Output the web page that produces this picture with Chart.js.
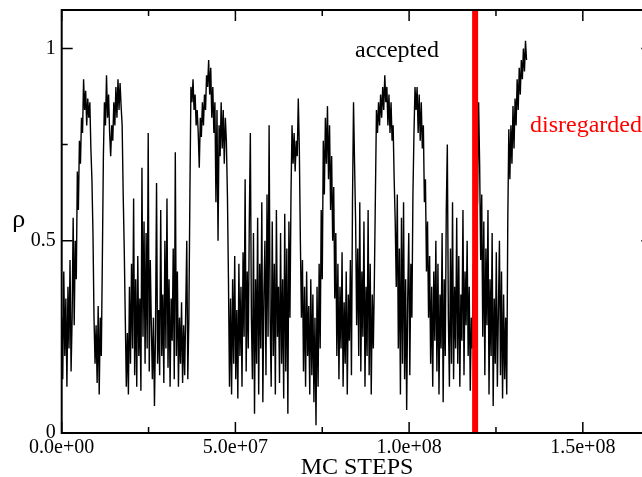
<!DOCTYPE html>
<html>
<head>
<meta charset="utf-8">
<script src="https://cdn.jsdelivr.net/npm/chart.js@4/dist/chart.umd.min.js"></script>
<style>
  html, body { margin: 0; padding: 0; background: #fff; overflow: hidden; }
  #wrap { width: 660px; height: 477px; }
</style>
</head>
<body>
<div id="wrap"><canvas id="rho-chart" width="660" height="477"></canvas></div>
<script>
// MC run: density rho sampled every SAMPLE_EVERY steps
const SAMPLE_EVERY = 3e5;
const RHO = [
  0.30, 0.14, 0.42, 0.20, 0.35, 0.12, 0.38, 0.22, 0.45, 0.16, 0.30, 0.56, 0.28, 0.50, 0.40, 0.68, 0.58, 0.76, 0.70, 0.82,
  0.78, 0.92, 0.84, 0.89, 0.80, 0.87, 0.82, 0.86, 0.74, 0.66, 0.52, 0.30, 0.18, 0.28, 0.13, 0.33, 0.10, 0.30, 0.20, 0.45,
  0.72, 0.86, 0.80, 0.93, 0.82, 0.88, 0.78, 0.72, 0.80, 0.76, 0.86, 0.80, 0.90, 0.82, 0.92, 0.84, 0.91, 0.85, 0.80, 0.62,
  0.48, 0.30, 0.12, 0.26, 0.10, 0.38, 0.18, 0.44, 0.22, 0.61, 0.15, 0.40, 0.12, 0.46, 0.20, 0.35, 0.11, 0.69, 0.25, 0.55,
  0.18, 0.52, 0.22, 0.78, 0.16, 0.45, 0.28, 0.14, 0.30, 0.07, 0.26, 0.65, 0.18, 0.32, 0.15, 0.58, 0.20, 0.36, 0.13, 0.50,
  0.22, 0.61, 0.17, 0.40, 0.12, 0.35, 0.24, 0.48, 0.14, 0.73, 0.20, 0.42, 0.12, 0.30, 0.18, 0.34, 0.13, 0.28, 0.15, 0.32,
  0.50, 0.14, 0.30, 0.62, 0.90, 0.86, 0.92, 0.84, 0.88, 0.80, 0.84, 0.78, 0.69, 0.82, 0.77, 0.86, 0.80, 0.88, 0.84, 0.93,
  0.90, 0.97, 0.88, 0.95, 0.82, 0.90, 0.78, 0.86, 0.60, 0.84, 0.50, 0.80, 0.72, 0.86, 0.74, 0.84, 0.70, 0.82, 0.76, 0.62,
  0.40, 0.12, 0.35, 0.10, 0.40, 0.18, 0.46, 0.14, 0.32, 0.09, 0.44, 0.20, 0.38, 0.12, 0.47, 0.25, 0.66, 0.16, 0.42, 0.22,
  0.55, 0.78, 0.30, 0.14, 0.52, 0.05, 0.40, 0.18, 0.56, 0.10, 0.44, 0.22, 0.60, 0.08, 0.36, 0.50, 0.15, 0.62, 0.25, 0.80,
  0.30, 0.12, 0.55, 0.20, 0.44, 0.10, 0.58, 0.25, 0.38, 0.13, 0.52, 0.18, 0.40, 0.09, 0.57, 0.16, 0.48, 0.05, 0.55, 0.30,
  0.62, 0.80, 0.70, 0.78, 0.68, 0.76, 0.72, 0.87, 0.74, 0.50, 0.30, 0.45, 0.16, 0.38, 0.12, 0.42, 0.20, 0.33, 0.10, 0.40,
  0.15, 0.36, 0.08, 0.30, 0.02, 0.38, 0.12, 0.44, 0.22, 0.58, 0.40, 0.76, 0.62, 0.82, 0.70, 0.85, 0.66, 0.80, 0.58, 0.72,
  0.50, 0.64, 0.35, 0.52, 0.20, 0.44, 0.14, 0.38, 0.22, 0.47, 0.12, 0.34, 0.18, 0.42, 0.10, 0.36, 0.24, 0.45, 0.15, 0.60,
  0.86, 0.70, 0.55, 0.28, 0.48, 0.20, 0.60, 0.16, 0.42, 0.25, 0.55, 0.12, 0.38, 0.20, 0.58, 0.15, 0.44, 0.10, 0.36, 0.22,
  0.40, 0.62, 0.84, 0.78, 0.86, 0.80, 0.88, 0.82, 0.90, 0.84, 0.93, 0.86, 0.90, 0.80, 0.88, 0.78, 0.86, 0.76, 0.80, 0.66,
  0.55, 0.38, 0.62, 0.22, 0.48, 0.10, 0.56, 0.18, 0.60, 0.14, 0.40, 0.06, 0.35, 0.52, 0.15, 0.44, 0.30, 0.62, 0.78, 0.90,
  0.84, 0.90, 0.78, 0.88, 0.76, 0.86, 0.74, 0.80, 0.60, 0.66, 0.42, 0.55, 0.30, 0.46, 0.18, 0.38, 0.12, 0.42, 0.24, 0.50,
  0.16, 0.44, 0.10, 0.36, 0.22, 0.52, 0.08, 0.40, 0.20, 0.58, 0.75, 0.30, 0.12, 0.48, 0.18, 0.60, 0.14, 0.38, 0.22, 0.56,
  0.18, 0.46, 0.12, 0.36, 0.24, 0.58, 0.15, 0.42, 0.28, 0.50, 0.20, 0.38, 0.11, 0.30, 0.22, 0.44, 0.14, 0.34, 0.56, 0.60,
  0.86, 0.70, 0.45, 0.62, 0.25, 0.55, 0.15, 0.48, 0.28, 0.58, 0.10, 0.40, 0.20, 0.52, 0.07, 0.35, 0.18, 0.47, 0.12, 0.32,
  0.50, 0.15, 0.42, 0.09, 0.36, 0.14, 0.30, 0.10, 0.55, 0.79, 0.66, 0.80, 0.70, 0.85, 0.74, 0.87, 0.80, 0.92, 0.84, 0.95,
  0.88, 0.97, 0.92, 1.00, 0.94, 1.02, 0.97,
];
const CUTOFF_STEP = 1.19e8;   // samples after this are disregarded

const X_TICKS       = [0, 5e7, 1e8, 1.5e8];
const X_TICK_LABELS = ["0.0e+00", "5.0e+07", "1.0e+08", "1.5e+08"];
const X_MINOR       = [2.5e7, 7.5e7, 1.25e8];
const Y_TICKS       = [0, 0.5, 1];
const Y_TICK_LABELS = ["0", "0.5", "1"];
const Y_MINOR       = [0.25, 0.75];

const SERIF = "'Liberation Serif', 'Times New Roman', serif";

// text notes, anchored in data units
const NOTES = [
  { text: "accepted",    x: 9.65e7,  y: 0.979, color: "#000000", align: "center" },
  { text: "disregarded", x: 1.348e8, y: 0.784, color: "#ff0000", align: "left" },
];

// ── Frame, inward ticks, labels ────────────────────────────────────────────

const framePlugin = {
  id: "frame",
  afterDatasetsDraw(chart) {
    const { ctx, chartArea: a, scales: { x, y } } = chart;
    ctx.save();
    ctx.strokeStyle = "#000";

    ctx.lineWidth = 1.5;
    ctx.beginPath();
    const xTick = (v, len) => {
      const px = x.getPixelForValue(v);
      ctx.moveTo(px, a.bottom); ctx.lineTo(px, a.bottom - len);
      ctx.moveTo(px, a.top);    ctx.lineTo(px, a.top + len);
    };
    const yTick = (v, len) => {
      const py = y.getPixelForValue(v);
      ctx.moveTo(a.left, py);  ctx.lineTo(a.left + len, py);
      ctx.moveTo(a.right, py); ctx.lineTo(a.right - len, py);
    };
    X_TICKS.forEach(v => xTick(v, 11));
    X_MINOR.forEach(v => xTick(v, 6));
    Y_TICKS.forEach(v => yTick(v, 11));
    Y_MINOR.forEach(v => yTick(v, 6));
    ctx.stroke();

    ctx.lineWidth = 2;
    ctx.strokeRect(a.left, a.top, a.right - a.left, a.bottom - a.top);

    // upright rho as y title
    ctx.fillStyle = "#000";
    ctx.font = `26px ${SERIF}`;
    ctx.textAlign = "center";
    ctx.textBaseline = "alphabetic";
    ctx.fillText("ρ", a.left - 43, y.getPixelForValue(0.55) + 5);

    ctx.font = `24px ${SERIF}`;
    NOTES.forEach(n => {
      ctx.fillStyle = n.color;
      ctx.textAlign = n.align;
      ctx.fillText(n.text, x.getPixelForValue(n.x), y.getPixelForValue(n.y));
    });
    ctx.restore();
  },
};

// ── Chart setup ────────────────────────────────────────────────────────────

function initChart() {
  const ctx = document.getElementById("rho-chart").getContext("2d");
  const points = RHO.map((r, i) => ({ x: i * SAMPLE_EVERY, y: r }));

  return new Chart(ctx, {
    type: "line",
    data: {
      datasets: [
        { label: "rho", data: points, borderColor: "#000", borderWidth: 1.4, pointRadius: 0, tension: 0, order: 2 },
        { label: "cutoff", data: [{ x: CUTOFF_STEP, y: 0 }, { x: CUTOFF_STEP, y: 1.1 }],
          borderColor: "#ff0000", borderWidth: 6, pointRadius: 0, order: 1 },
      ],
    },
    options: {
      responsive: false,
      animation: false,
      layout: { padding: { top: 10, right: 7.7, left: 0, bottom: 0 } },
      plugins: { legend: { display: false }, tooltip: { enabled: false } },
      scales: {
        x: {
          type: "linear", min: 0, max: 1.7e8,
          grid: { display: false, drawTicks: false },
          border: { display: false },
          afterBuildTicks: s => { s.ticks = X_TICKS.map(v => ({ value: v })); },
          afterFit: s => { s.height = 44; s.paddingLeft = 0; s.paddingRight = 0; },
          ticks: {
            padding: 3, color: "#000", maxRotation: 0, autoSkip: false,
            font: { family: SERIF, size: 20 },
            callback: (v, i) => X_TICK_LABELS[i],
          },
          title: { display: true, text: "MC STEPS", color: "#000", padding: 0,
                   font: { family: SERIF, size: 24, lineHeight: 0.8 } },
        },
        y: {
          type: "linear", min: 0, max: 1.1,
          grid: { display: false, drawTicks: false },
          border: { display: false },
          afterBuildTicks: s => { s.ticks = Y_TICKS.map(v => ({ value: v })); },
          afterFit: s => { s.width = 61.7; s.paddingTop = 0; s.paddingBottom = 0; },
          ticks: {
            padding: 6, color: "#000", autoSkip: false,
            font: { family: SERIF, size: 20 },
            callback: (v, i) => Y_TICK_LABELS[i],
          },
        },
      },
    },
    plugins: [framePlugin],
  });
}

initChart();
</script>
</body>
</html>
